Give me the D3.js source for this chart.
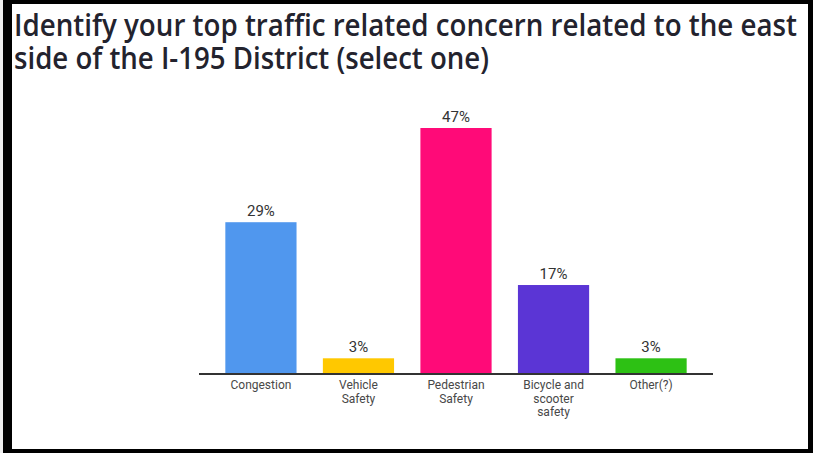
<!DOCTYPE html>
<html>
<head>
<meta charset="utf-8">
<script src="https://cdn.jsdelivr.net/npm/d3@7"></script>
<style>
  html, body { margin: 0; padding: 0; background: #fff; }
  svg { display: block; }
</style>
</head>
<body>
<div id="chart"></div>
<script>
var categories = [['Congestion'], ['Vehicle', 'Safety'], ['Pedestrian', 'Safety'], ['Bicycle and', 'scooter', 'safety'], ['Other(?)']]
var values = [29, 3, 47, 17, 3]
var colors = ['#5097ee', '#ffc800', '#ff0a78', '#5b35d5', '#2dc114']
var titleLines = ['Identify your top traffic related concern related to the east', 'side of the I-195 District (select one)']
var titleWidths = [783, 475]

var W = 813, H = 453

var svg = d3.select('#chart')
            .append('svg')
            .attr('width', W)
            .attr('height', H)

// black frame round the slide
svg.append('rect').attr('x', 0).attr('y', 0).attr('width', W).attr('height', H).style('fill', '#000')
svg.append('rect').attr('x', 0).attr('y', 0).attr('width', 3).attr('height', H).style('fill', '#eee')
svg.append('rect').attr('x', 12).attr('y', 4).attr('width', 796).attr('height', 445).style('fill', '#fff')

// title, one text with a tspan per line, squeezed to the width it has in the slide
svg.append('text')
   .attr('class', 'title')
   .style('font-family', '"Open Sans", sans-serif')
   .style('font-weight', 600)
   .style('font-size', '30px')
   .style('fill', '#23232e')
   .selectAll('tspan')
   .data(titleLines)
   .enter()
   .append('tspan')
   .attr('x', 14)
   .attr('y', function(d, i){ return 36 + i * 33 })
   .attr('textLength', function(d, i){ return titleWidths[i] })
   .attr('lengthAdjust', 'spacingAndGlyphs')
   .text(function(d){ return d })

var x = d3.scaleBand()
          .domain(d3.range(values.length))
          .range([199, 713])
          .padding(0.27)

var y = d3.scaleLinear()
          .domain([0, 47])
          .range([374, 128])

var chart = svg.append('g').attr('class', 'chart')

chart.selectAll('.bar')
     .data(values)
     .enter()
     .append('rect')
     .attr('class', 'bar')
     .attr('x', function(d, i){ return x(i) })
     .attr('width', x.bandwidth())
     .attr('y', function(d){ return y(d) })
     .attr('height', function(d){ return y(0) - y(d) })
     .style('fill', function(d, i){ return colors[i] })

chart.selectAll('.val')
     .data(values)
     .enter()
     .append('text')
     .attr('class', 'val')
     .attr('x', function(d, i){ return x(i) + x.bandwidth() / 2 })
     .attr('y', function(d){ return y(d) - 6 })
     .attr('text-anchor', 'middle')
     .style('font-family', 'Roboto, sans-serif')
     .style('font-size', '15px')
     .style('fill', '#333')
     .text(function(d){ return d + '%' })

// baseline
chart.append('line')
     .attr('x1', 199).attr('x2', 713)
     .attr('y1', y(0)).attr('y2', y(0))
     .style('stroke', '#333')
     .style('stroke-width', 2)

var labels = chart.selectAll('.cat')
     .data(categories)
     .enter()
     .append('text')
     .attr('class', 'cat')
     .attr('text-anchor', 'middle')
     .style('font-family', 'Roboto, sans-serif')
     .style('font-size', '12px')
     .style('fill', '#484848')

labels.selectAll('tspan')
      .data(function(d, i){ return d.map(function(s){ return {s: s, i: i} }) })
      .enter()
      .append('tspan')
      .attr('x', function(d){ return x(d.i) + x.bandwidth() / 2 })
      .attr('y', function(d, j){ return 389 + j * 13.5 })
      .text(function(d){ return d.s })
</script>
</body>
</html>
